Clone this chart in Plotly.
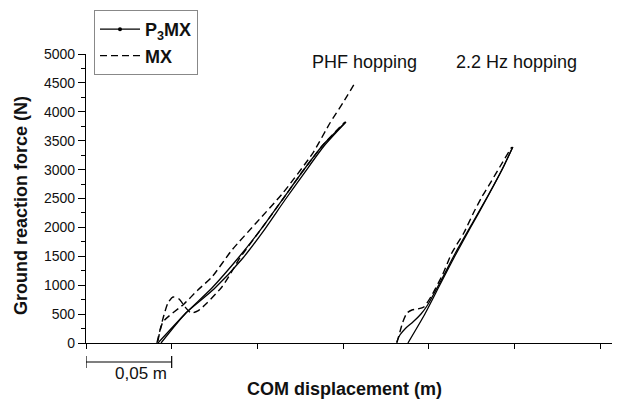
import plotly.graph_objects as go

# ---- data (COM displacement in m, ground reaction force in N) ----
# PHF hopping
phf_p3mx_a_x = [0.0420, 0.0583, 0.0735, 0.0898, 0.1027, 0.1149, 0.1266, 0.1383, 0.1517]
phf_p3mx_a_y = [0, 519, 952, 1505, 1990, 2491, 2976, 3426, 3823]
phf_p3mx_b_x = [0.0438, 0.0583, 0.0747, 0.0916, 0.1044, 0.1161, 0.1278, 0.1389, 0.1517]
phf_p3mx_b_y = [0, 519, 934, 1471, 1972, 2474, 2958, 3408, 3823]
phf_mx_a_x = [0.0420, 0.0449, 0.0572, 0.0653, 0.0735, 0.0852, 0.0998, 0.1149, 0.1324, 0.1424, 0.1499, 0.1569]
phf_mx_a_y = [35, 363, 675, 917, 1142, 1609, 2093, 2595, 3287, 3806, 4152, 4498]
phf_mx_b_x = [0.0414, 0.0432, 0.0455, 0.0478, 0.0508, 0.0543, 0.0578, 0.0613, 0.0653, 0.0706,
              0.0793, 0.0846, 0.0898, 0.1027, 0.1149, 0.1266, 0.1383, 0.1511]
phf_mx_b_y = [0, 225, 484, 692, 796, 761, 623, 519, 554, 692,
              969, 1211, 1471, 1990, 2491, 2976, 3426, 3823]

# 2.2 Hz hopping
hz_p3mx_a_x = [0.1879, 0.1978, 0.2065, 0.2153, 0.2246, 0.2340, 0.2427, 0.2491]
hz_p3mx_a_y = [0, 502, 1003, 1505, 2006, 2508, 2993, 3391]
hz_p3mx_b_x = [0.1814, 0.1832, 0.1867, 0.1908, 0.1955, 0.1990, 0.2071, 0.2159, 0.2252, 0.2345, 0.2433, 0.2491]
hz_p3mx_b_y = [17, 138, 260, 363, 502, 640, 1073, 1574, 2058, 2543, 3027, 3391]
hz_mx_x = [0.1814, 0.1832, 0.1849, 0.1873, 0.1902, 0.1937, 0.1972, 0.2019, 0.2083, 0.2135,
           0.2205, 0.2264, 0.2310, 0.2363, 0.2415, 0.2485]
hz_mx_y = [0, 190, 363, 519, 571, 588, 623, 830, 1194, 1557,
           1903, 2266, 2526, 2785, 3045, 3391]

y_ticks = list(range(0, 5001, 500))
series_names = ["<b>P<sub>3</sub>MX</b>", "<b>MX</b>"]
conditions = ["PHF hopping", "2.2 Hz hopping"]
scale_bar_len = 0.05
scale_bar_label = "0,05 m"
x_title = "COM displacement (m)"
y_title = "Ground reaction force (N)"

FONT = "Liberation Sans, Arial, sans-serif"
DASH = "7px,4px"
TXT = "#111"

fig = go.Figure()

solid = dict(color="black", width=1.3)
dashed = dict(color="black", width=1.4, dash=DASH)

for xs, ys in [(phf_p3mx_a_x, phf_p3mx_a_y), (phf_p3mx_b_x, phf_p3mx_b_y),
               (hz_p3mx_a_x, hz_p3mx_a_y), (hz_p3mx_b_x, hz_p3mx_b_y)]:
    fig.add_trace(go.Scatter(x=xs, y=ys, mode="lines", line=dict(solid, shape="spline", smoothing=0.6),
                             showlegend=False, hoverinfo="skip"))
for xs, ys in [(phf_mx_a_x, phf_mx_a_y), (phf_mx_b_x, phf_mx_b_y), (hz_mx_x, hz_mx_y)]:
    fig.add_trace(go.Scatter(x=xs, y=ys, mode="lines", line=dict(dashed, shape="spline", smoothing=0.6),
                             showlegend=False, hoverinfo="skip"))

# legend entries
fig.add_trace(go.Scatter(x=[None], y=[None], mode="lines+markers", name=series_names[0],
                         line=solid, marker=dict(size=4, color="black")))
fig.add_trace(go.Scatter(x=[None], y=[None], mode="lines", name=series_names[1], line=dashed))

L, R, T, B = 86, 10, 54, 60
PLOT_W = 622 - L - R
PLOT_H = 403 - T - B

def py(pix):  # pixel row -> paper y
    return (403 - B - pix) / PLOT_H

def px(pix):  # pixel column -> paper x
    return (pix - L) / PLOT_W

# scale bar
bar_y = py(362)
fig.add_shape(type="line", xref="x", yref="paper", x0=0, x1=scale_bar_len, y0=bar_y, y1=bar_y,
              line=dict(color="black", width=1.2))
for xv in (0, scale_bar_len):
    fig.add_shape(type="line", xref="x", yref="paper", x0=xv, x1=xv, y0=py(356), y1=py(368),
                  line=dict(color="black", width=1.2))
fig.add_annotation(x=px(141), xref="paper", y=py(373), yref="paper", text=scale_bar_label,
                   showarrow=False, font=dict(family=FONT, size=17, color=TXT),
                   xanchor="center", yanchor="middle")

# axis titles
fig.add_annotation(x=px(344), xref="paper", y=py(389), yref="paper",
                   text="<b>" + x_title + "</b>", showarrow=False,
                   font=dict(family=FONT, size=18, color=TXT), xanchor="center", yanchor="middle")
fig.add_annotation(x=px(21), xref="paper", y=py(206), yref="paper",
                   text="<b>" + y_title + "</b>", showarrow=False, textangle=-90,
                   font=dict(family=FONT, size=18, color=TXT), xanchor="center", yanchor="middle")

# condition labels
for label, cx in zip(conditions, (364, 516)):
    fig.add_annotation(x=px(cx), xref="paper", y=py(62), yref="paper", text=label,
                       showarrow=False, font=dict(family=FONT, size=18, color=TXT),
                       xanchor="center", yanchor="middle")

fig.update_layout(
    width=622, height=403,
    margin=dict(l=L, r=R, t=T, b=B, autoexpand=False),
    paper_bgcolor="white", plot_bgcolor="white",
    font=dict(family=FONT, color=TXT),
    legend=dict(x=px(94), y=py(10), xanchor="left", yanchor="top",
                bordercolor="#888", borderwidth=1, bgcolor="white",
                font=dict(family=FONT, size=18, color=TXT),
                tracegroupgap=0, itemwidth=40),
)
fig.update_xaxes(range=[0, 0.307], showgrid=False, zeroline=False, showline=True, automargin=False,
                 linecolor="black", linewidth=1.2, ticks="outside", tickcolor="black",
                 ticklen=5, tickwidth=1.2, dtick=0.05, tick0=0, showticklabels=False)
fig.update_yaxes(range=[0, 5000], showgrid=False, zeroline=False, showline=True, automargin=False,
                 linecolor="black", linewidth=1.2, ticks="outside", tickcolor="black",
                 ticklen=7, tickwidth=1.2, tickvals=y_ticks,
                 tickfont=dict(family=FONT, size=14, color=TXT),
                 minor=dict(ticks="outside", ticklen=4, dtick=250, tickcolor="black", tickwidth=1.2))

fig.write_html("out.html", config={"displayModeBar": False},
               post_script="document.body.style.margin='0';document.body.style.overflow='hidden';")
